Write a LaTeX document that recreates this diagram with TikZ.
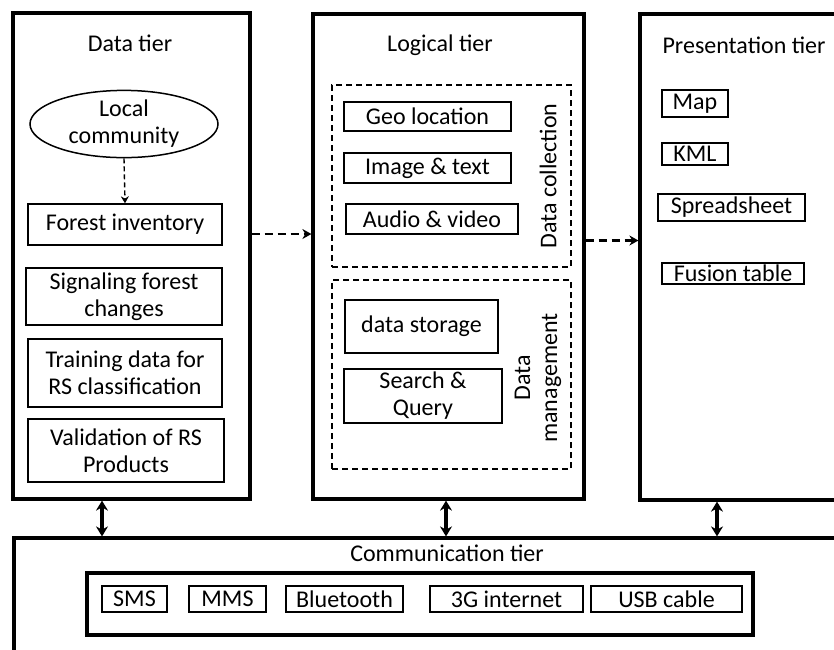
\documentclass[tikz,border=0pt]{standalone}
\usepackage{fontspec}
\setmainfont{Carlito}
\usetikzlibrary{arrows,arrows.meta,shapes,positioning,calc}
\tikzstyle{tier}=[draw, line width=3.2pt]
\tikzstyle{item}=[draw, line width=1.4pt, align=center, inner sep=0pt]
\tikzstyle{group}=[draw, line width=1.5pt, dash pattern=on 6pt off 4pt]
\tikzstyle{feed}=[line width=2.8pt, dash pattern=on 8pt off 5pt, -{Stealth[length=9pt,width=10pt]}]
\tikzstyle{link}=[line width=4.4pt, {Stealth[length=10pt,width=12pt]}-{Stealth[length=10pt,width=12pt]}]
\newcommand{\rectNnode}[7]{
	\node[#1, minimum width={#5-#3}, minimum height={#6-#4}] (#2) at ({(#3+#5)/2},{(#4+#6)/2}) {#7};
}
\begin{document}
\begin{tikzpicture}[x=1pt, y=-1pt, every node/.style={font=\fontsize{24}{27}\selectfont}]
	\useasboundingbox (0,0) rectangle (834,649);
	\rectNnode{tier}{data}{13}{13}{250}{499}{};
	\rectNnode{tier}{logic}{313}{14}{584}{499}{};
	\rectNnode{tier}{pres}{640}{14}{852}{500}{};
	\rectNnode{tier}{comm}{14}{538}{852}{662}{};
	\node at (130,43) {Data tier};
	\node at (440,45) {Logical tier};
	\node at (744,45) {Presentation tier};
	\node at (447,553) {Communication tier};
	\node[draw, ellipse, line width=1.5pt, minimum width=188, minimum height=59, inner sep=0pt, align=center] (lc) at (124,124) {Local\\community};
	\rectNnode{item}{fi}{28}{204}{222}{245}{Forest inventory};
	\rectNnode{item}{sf}{26}{268}{222}{325}{Signaling forest\\changes};
	\rectNnode{item}{td}{28}{339}{222}{407}{Training data for\\RS classification};
	\rectNnode{item}{vp}{28}{419}{224}{482}{Validation of RS\\Products};
	\rectNnode{group}{dc}{332}{85}{571}{267}{};
	\rectNnode{group}{dm}{332}{280}{571}{469}{};
	\node[rotate=90] at (548,176) {Data collection};
	\node[rotate=90, align=center] at (538,378) {Data\\management};
	\rectNnode{item}{geo}{344}{102}{511}{131}{Geo location};
	\rectNnode{item}{img}{344}{153}{511}{183}{Image \& text};
	\rectNnode{item}{aud}{346}{204}{518}{234}{Audio \& video};
	\rectNnode{item}{ds}{345}{300}{498}{353}{data storage};
	\rectNnode{item}{sq}{344}{369}{502}{423}{Search \&\\Query};
	\rectNnode{item}{map}{662}{90}{728}{117}{Map};
	\rectNnode{item}{kml}{662}{143}{728}{165}{KML};
	\rectNnode{item}{ss}{658}{194}{805}{221}{Spreadsheet};
	\rectNnode{item}{ft}{662}{263}{804}{284}{Fusion table};
	\rectNnode{tier}{chan}{87}{573}{753}{635}{};
	\rectNnode{item}{sms}{102}{586}{167}{612}{SMS};
	\rectNnode{item}{mms}{189}{586}{266}{612}{MMS};
	\rectNnode{item}{bt}{286}{586}{403}{612}{Bluetooth};
	\rectNnode{item}{net}{430}{586}{583}{612}{3G internet};
	\rectNnode{item}{usb}{591}{586}{742}{612}{USB cable};
	\draw[line width=1.4pt, dash pattern=on 5pt off 3pt, -{Stealth[length=7pt,width=8pt]}] (lc.south) -- (fi.north);
	\draw[feed] ([yshift=22pt]data.east) -- ([yshift=22pt]data.east -| logic.west);
	\draw[feed] ([yshift=16pt]logic.east) -- ([yshift=16pt]logic.east -| pres.west);
	\coordinate (c1) at (102,0);
	\coordinate (c2) at (446,0);
	\coordinate (c3) at (717,0);
	\draw[link] (data.south -| c1) -- (comm.north -| c1);
	\draw[link] (logic.south -| c2) -- (comm.north -| c2);
	\draw[link] (pres.south -| c3) -- (comm.north -| c3);
\end{tikzpicture}
\end{document}
